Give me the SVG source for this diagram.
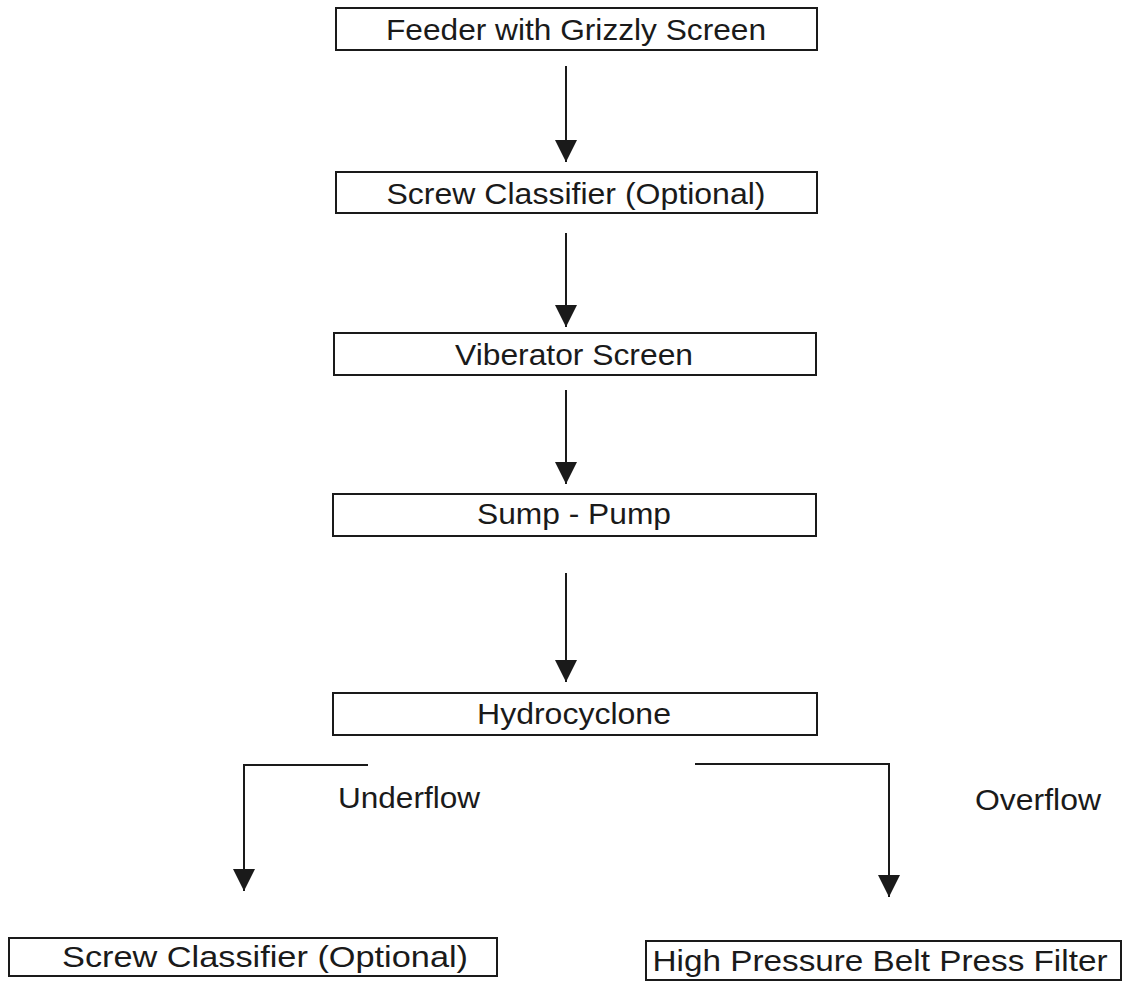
<svg xmlns="http://www.w3.org/2000/svg" width="1123" height="982" viewBox="0 0 1123 982">
<style>
.box{fill:#fff;stroke:#1a1a1a;stroke-width:2}
.lbl{font-family:"Liberation Sans",Arial,sans-serif;font-size:30px;fill:#1a1a1a;text-anchor:middle}
.tag{font-family:"Liberation Sans",Arial,sans-serif;font-size:30px;fill:#1a1a1a}
.ln{fill:none;stroke:#1a1a1a;stroke-width:2}
</style>
<defs>
<marker id="ah" markerUnits="userSpaceOnUse" markerWidth="22" markerHeight="22" refX="22" refY="11" orient="auto">
<path d="M0,0 L22,11 L0,22 Z" fill="#1a1a1a"/>
</marker>
</defs>
<rect width="1123" height="982" fill="#fff"/>
<g id="connectors">
<line class="ln" x1="566" y1="66" x2="566" y2="162" marker-end="url(#ah)"/>
<line class="ln" x1="566" y1="233" x2="566" y2="327" marker-end="url(#ah)"/>
<line class="ln" x1="566" y1="390" x2="566" y2="484" marker-end="url(#ah)"/>
<line class="ln" x1="566" y1="573" x2="566" y2="682" marker-end="url(#ah)"/>
<path class="ln" d="M368,765 H244 V891" marker-end="url(#ah)"/>
<path class="ln" d="M695,764 H889 V897" marker-end="url(#ah)"/>
</g>
<g id="n1">
<rect class="box" x="336" y="8" width="481" height="42"/>
<text class="lbl" x="576" y="40" textLength="380" lengthAdjust="spacingAndGlyphs">Feeder with Grizzly Screen</text>
</g>
<g id="n2">
<rect class="box" x="336" y="172" width="481" height="41"/>
<text class="lbl" x="576" y="204" textLength="379" lengthAdjust="spacingAndGlyphs">Screw Classifier (Optional)</text>
</g>
<g id="n3">
<rect class="box" x="334" y="333" width="482" height="42"/>
<text class="lbl" x="574" y="365" textLength="238" lengthAdjust="spacingAndGlyphs">Viberator Screen</text>
</g>
<g id="n4">
<rect class="box" x="333" y="494" width="483" height="42"/>
<text class="lbl" x="574" y="524" textLength="194" lengthAdjust="spacingAndGlyphs">Sump - Pump</text>
</g>
<g id="n5">
<rect class="box" x="333" y="693" width="484" height="42"/>
<text class="lbl" x="574" y="724" textLength="194" lengthAdjust="spacingAndGlyphs">Hydrocyclone</text>
</g>
<g id="lbl-under">
<text class="tag" x="338" y="808" textLength="142" lengthAdjust="spacingAndGlyphs">Underflow</text>
</g>
<g id="lbl-over">
<text class="tag" x="975" y="810" textLength="126" lengthAdjust="spacingAndGlyphs">Overflow</text>
</g>
<g id="n6">
<rect class="box" x="9" y="938" width="488" height="38"/>
<text class="lbl" x="265" y="967" textLength="406" lengthAdjust="spacingAndGlyphs">Screw Classifier (Optional)</text>
</g>
<g id="n7">
<rect class="box" x="646" y="941" width="475" height="39"/>
<text class="lbl" x="880" y="971" textLength="455" lengthAdjust="spacingAndGlyphs">High Pressure Belt Press Filter</text>
</g>
</svg>
